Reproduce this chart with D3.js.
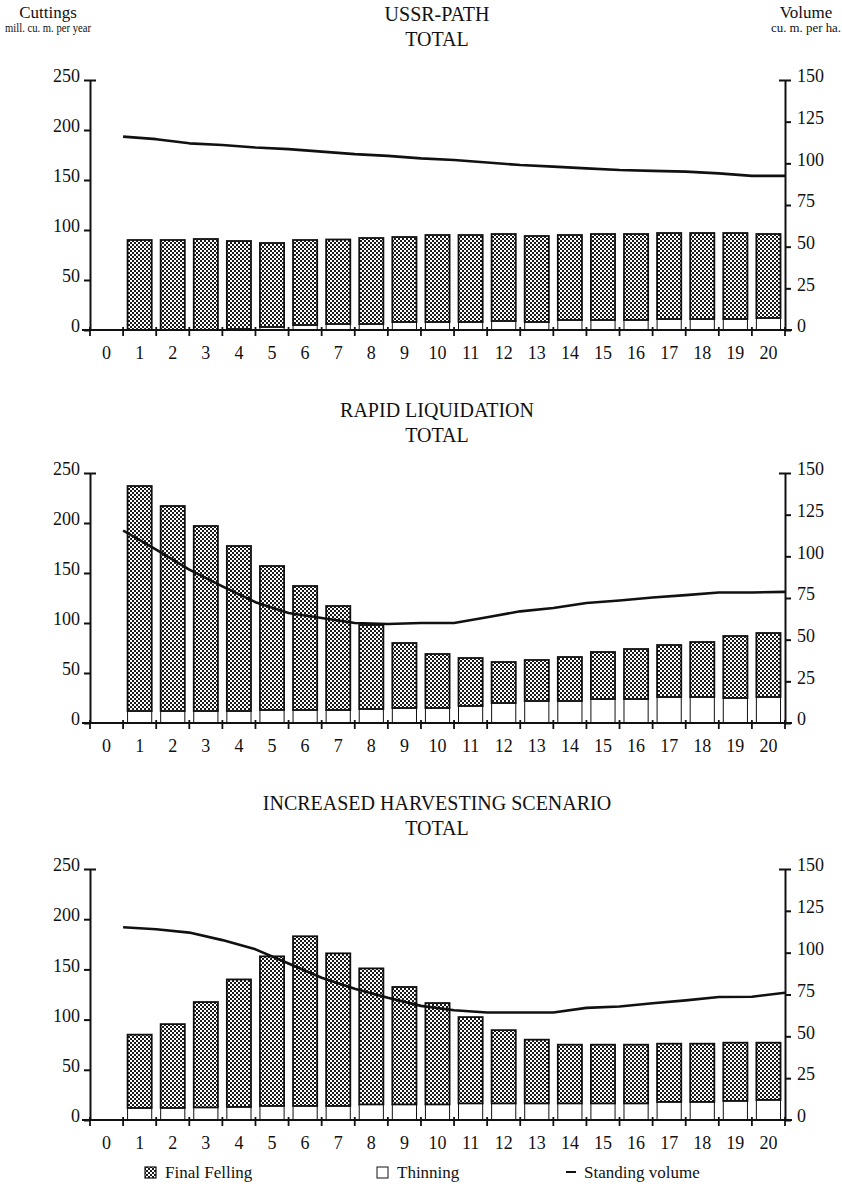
<!DOCTYPE html>
<html>
<head>
<meta charset="utf-8">
<script src="https://cdn.jsdelivr.net/npm/d3@7"></script>
<style>
  html, body { margin: 0; padding: 0; background: #fff; }
  svg { display: block; }
  svg text { font-family: "Liberation Serif", "Times New Roman", serif !important; fill: #111; }
</style>
</head>
<body>
<script>
// Periods (5-year steps); period 0 has no cuttings
const yearLabels = ["0","1","2","3","4","5","6","7","8","9","10","11","12","13","14","15","16","17","18","19","20"];

// Cuttings, mill. cu. m. per year, periods 1..20
const ussrFinal  = [90, 90, 91, 88, 84, 85, 84.5, 86, 85, 87, 87, 87, 86, 85, 86, 86, 86, 86, 86, 84];
const ussrThin   = [0, 0, 0, 1, 3, 5, 6, 6, 8, 8, 8, 9, 8, 10, 10, 10, 11, 11, 11, 12];
const rapidFinal = [225, 205, 185, 165, 144, 124, 104, 84, 65, 54, 48, 41, 41, 44, 47, 50, 52, 55, 62, 64];
const rapidThin  = [12, 12, 12, 12, 13, 13, 13, 14, 15, 15, 17, 20, 22, 22, 24, 24, 26, 26, 25, 26];
const incFinal   = [73, 83.5, 105, 127, 149, 169, 152, 135.5, 117, 101, 86, 73, 63.5, 58.5, 58.5, 58.5, 58, 58, 58, 57];
const incThin    = [12, 12, 12.5, 13, 14, 14, 14, 15.5, 15.5, 15.5, 16.5, 16.5, 16.5, 16.5, 16.5, 16.5, 18, 18, 19, 20];

// Standing volume, cu. m. per ha., at the end of periods 0..20
const ussrVolume  = [116, 114.5, 112, 111, 109.5, 108.5, 107, 105.5, 104.5, 103, 102, 100.5, 99, 98, 97, 96, 95.5, 95, 94, 92.5, 92.5];
const rapidVolume = [115.5, 104, 92, 82, 72.5, 66, 63, 60, 59.4, 60, 60, 63.5, 67, 69, 72, 73.5, 75.3, 76.7, 78.3, 78.3, 78.7];
const incVolume   = [115.2, 114, 112, 107.5, 102, 93.5, 85, 78.5, 73, 68.2, 65.6, 64.2, 64.2, 64.2, 67, 67.8, 69.8, 71.5, 73.5, 73.7, 76];

const cuttingTicks = [0, 50, 100, 150, 200, 250];
const volumeTicks  = [0, 25, 50, 75, 100, 125, 150];

const panels = [
  { title: ["USSR-PATH", "TOTAL"], final: ussrFinal, thin: ussrThin, vol: ussrVolume, top: 80, height: 250, titleY: 21 },
  { title: ["RAPID LIQUIDATION", "TOTAL"], final: rapidFinal, thin: rapidThin, vol: rapidVolume, top: 473, height: 250, titleY: 417 },
  { title: ["INCREASED HARVESTING SCENARIO", "TOTAL"], final: incFinal, thin: incThin, vol: incVolume, top: 869, height: 251, titleY: 810 }
];

const W = 842, H = 1192;
const left = 90, right = 785;
const serif = "'Liberation Serif', 'Times New Roman', serif";

const svg = d3.select("body").append("svg").attr("width", W).attr("height", H)
  .attr("font-family", serif);

// Stippled fill for final felling
const defs = svg.append("defs");
const pat = defs.append("pattern")
  .attr("id", "stipple").attr("patternUnits", "userSpaceOnUse")
  .attr("width", 4).attr("height", 4);
pat.append("rect").attr("width", 4).attr("height", 4).attr("fill", "#fff");
pat.append("rect").attr("x", 0).attr("y", 0).attr("width", 2).attr("height", 2).attr("fill", "#1a1a1a");
pat.append("rect").attr("x", 2).attr("y", 2).attr("width", 2).attr("height", 2).attr("fill", "#1a1a1a");

const x = d3.scaleBand().domain(yearLabels).range([left, right]).padding(0);
const bw = x.bandwidth();
const barW = bw * 0.73;

// Axis unit headers
svg.append("text").attr("x", 48).attr("y", 18).attr("text-anchor", "middle")
  .style("font-size", "17px").text("Cuttings");
svg.append("text").attr("x", 48).attr("y", 32).attr("text-anchor", "middle")
  .style("font-size", "12px").attr("textLength", 86).attr("lengthAdjust", "spacingAndGlyphs")
  .text("mill. cu. m. per year");
svg.append("text").attr("x", 806).attr("y", 18).attr("text-anchor", "middle")
  .style("font-size", "17px").text("Volume");
svg.append("text").attr("x", 806).attr("y", 32).attr("text-anchor", "middle")
  .style("font-size", "12px").attr("textLength", 70).attr("lengthAdjust", "spacingAndGlyphs")
  .text("cu. m. per ha.");

panels.forEach(p => {
  const g = svg.append("g");
  const y0 = p.top + p.height;
  const y = d3.scaleLinear().domain([0, 250]).range([y0, p.top]);
  const yR = d3.scaleLinear().domain([0, 150]).range([y0, p.top]);

  // Title
  p.title.forEach((t, i) => {
    g.append("text").attr("x", 437).attr("y", p.titleY + i * 25)
      .attr("text-anchor", "middle").style("font-size", "20px").text(t);
  });

  // Stacked bars: thinning at the bottom, final felling above
  const rows = yearLabels.slice(1).map((yr, i) => ({ year: yr, thin: p.thin[i], final: p.final[i] }));
  const stacked = d3.stack().keys(["thin", "final"])(rows);

  g.append("g").selectAll("rect").data(stacked[0]).join("rect")
    .attr("x", d => x(d.data.year) + (bw - barW) / 2)
    .attr("width", barW)
    .attr("y", d => y(d[1]))
    .attr("height", d => y(d[0]) - y(d[1]))
    .attr("fill", "#fff").attr("stroke", "#111").attr("stroke-width", 1);

  g.append("g").selectAll("rect").data(stacked[1]).join("rect")
    .attr("x", d => x(d.data.year) + (bw - barW) / 2)
    .attr("width", barW)
    .attr("y", d => y(d[1]))
    .attr("height", d => y(d[0]) - y(d[1]))
    .attr("fill", "url(#stipple)").attr("stroke", "#111").attr("stroke-width", 1.8);

  // Standing volume line
  const line = d3.line()
    .x((d, i) => x(yearLabels[i]) + bw)
    .y(d => yR(d));
  g.append("path").datum(p.vol).attr("d", line)
    .attr("fill", "none").attr("stroke", "#111").attr("stroke-width", 2.6)
    .attr("stroke-linejoin", "round");

  // Left axis
  const ax = g.append("g").attr("transform", `translate(${left},0)`)
    .call(d3.axisLeft(y).tickValues(cuttingTicks).tickSize(6).tickSizeOuter(0));
  ax.attr("font-family", serif);
  ax.select(".domain").attr("stroke-width", 2);
  ax.selectAll(".tick line").attr("stroke-width", 2)
    .filter(d => d === 250).attr("x1", 6);
  ax.selectAll(".tick text").attr("x", -10).attr("y", -4).style("font-size", "18px");

  // Right axis
  const ar = g.append("g").attr("transform", `translate(${right},0)`)
    .call(d3.axisRight(yR).tickValues(volumeTicks).tickSize(6).tickSizeOuter(0));
  ar.attr("font-family", serif);
  ar.select(".domain").attr("stroke-width", 2);
  ar.selectAll(".tick line").attr("stroke-width", 2)
    .filter(d => d === 150).attr("x1", -6);
  ar.selectAll(".tick text").attr("x", 12).attr("y", -4).style("font-size", "18px");

  // Bottom axis: line, boundary ticks and centred period labels
  g.append("line").attr("x1", left - 8).attr("x2", right + 7)
    .attr("y1", y0).attr("y2", y0).attr("stroke", "#111").attr("stroke-width", 2);
  const bounds = yearLabels.map(d => x(d)).concat([x(yearLabels[20]) + bw]);
  g.append("g").selectAll("line").data(bounds).join("line")
    .attr("x1", d => d).attr("x2", d => d)
    .attr("y1", y0 - 3).attr("y2", y0 + 6)
    .attr("stroke", "#111").attr("stroke-width", 1.8);
  const axb = g.append("g").attr("transform", `translate(0,${y0})`)
    .call(d3.axisBottom(x).tickSize(0));
  axb.attr("font-family", serif);
  axb.select(".domain").remove();
  axb.selectAll(".tick text").attr("y", 16).style("font-size", "18px");

  g.selectAll(".tick text").attr("fill", "#111");
  g.selectAll(".domain, .tick line").attr("stroke", "#111");
});

// Legend
const lg = svg.append("g").style("font-size", "17px");
lg.append("rect").attr("x", 145).attr("y", 1167).attr("width", 11).attr("height", 11)
  .attr("fill", "url(#stipple)").attr("stroke", "#111").attr("stroke-width", 1.2);
lg.append("text").attr("x", 165).attr("y", 1178).text("Final Felling");
lg.append("rect").attr("x", 377).attr("y", 1167).attr("width", 11).attr("height", 11)
  .attr("fill", "#fff").attr("stroke", "#111").attr("stroke-width", 1);
lg.append("text").attr("x", 397).attr("y", 1178).text("Thinning");
lg.append("line").attr("x1", 566).attr("x2", 576).attr("y1", 1172).attr("y2", 1172)
  .attr("stroke", "#111").attr("stroke-width", 2);
lg.append("text").attr("x", 584).attr("y", 1178).text("Standing volume");
</script>
</body>
</html>
